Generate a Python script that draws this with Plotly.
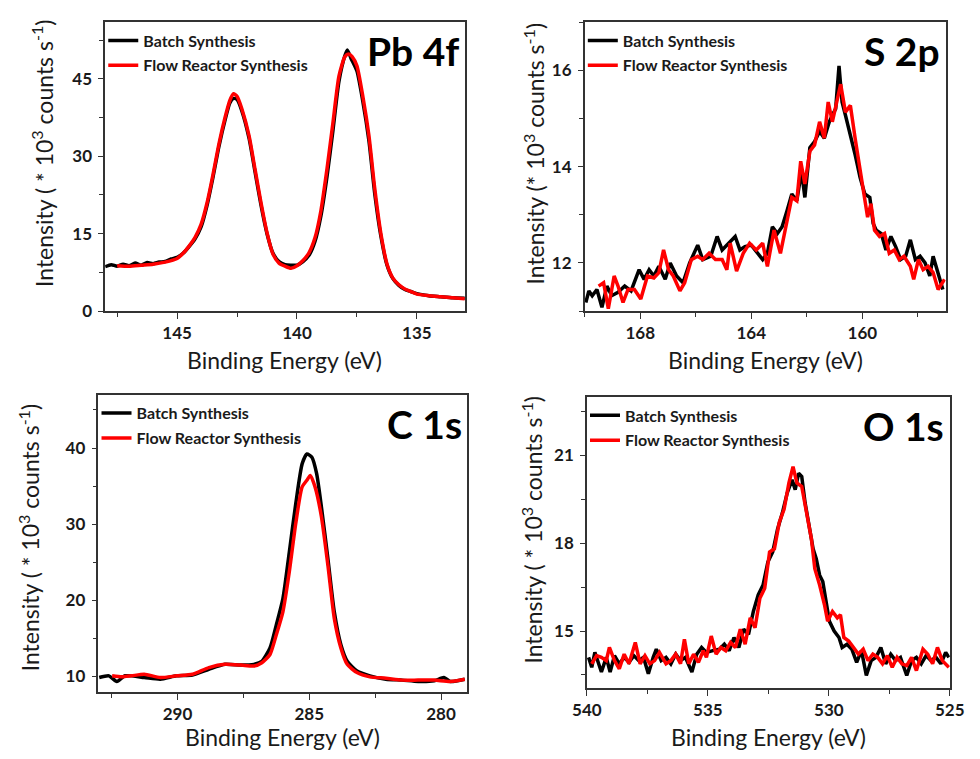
import plotly.graph_objects as go

# ---------------- Pb 4f ----------------
pb_x_batch = [148.0, 147.75, 147.5, 147.25, 147.0, 146.75, 146.5, 146.25, 146.0, 145.75, 145.5, 145.25,
              145.0, 144.75, 144.5, 144.25, 144.0, 143.75, 143.5, 143.25, 143.0, 142.8, 142.65, 142.5,
              142.3, 142.0, 141.75, 141.5, 141.25, 141.0, 140.75, 140.5, 140.25, 140.0, 139.75, 139.5,
              139.25, 139.0, 138.75, 138.5, 138.25, 138.0, 137.9, 137.75, 137.5, 137.25, 137.0, 136.75,
              136.5, 136.25, 136.0, 135.75, 135.5, 135.25, 135.0, 134.5, 134.0, 133.5, 133.0]
pb_y_batch = [8.6, 9.0, 8.7, 9.1, 8.8, 9.3, 8.9, 9.4, 9.2, 9.5, 9.6, 10.1,
              10.4, 11.2, 12.5, 14.0, 16.3, 20.5, 26.0, 32.0, 37.0, 40.3, 41.2, 41.0,
              38.8, 33.5, 27.0, 20.5, 15.0, 11.2, 9.6, 9.0, 8.9, 8.9, 9.6, 10.8,
              13.5, 18.5, 26.0, 35.0, 44.5, 49.5, 50.6, 49.0, 46.5, 40.5, 33.0, 22.5,
              14.5, 9.0, 6.3, 5.0, 4.2, 3.8, 3.4, 3.0, 2.8, 2.6, 2.5]
pb_x_flow = [147.5, 147.0, 146.5, 146.0, 145.5, 145.0, 144.75, 144.5, 144.25, 144.0, 143.75, 143.5,
             143.25, 143.0, 142.8, 142.65, 142.5, 142.3, 142.0, 141.75, 141.5, 141.25, 141.0, 140.75,
             140.5, 140.25, 140.0, 139.75, 139.5, 139.25, 139.0, 138.75, 138.5, 138.25, 138.0, 137.85,
             137.7, 137.5, 137.25, 137.0, 136.75, 136.5, 136.25, 136.0, 135.75, 135.5, 135.25, 135.0,
             134.5, 134.0, 133.5, 133.0]
pb_y_flow = [8.8, 8.7, 8.9, 9.1, 9.5, 10.2, 11.2, 12.6, 14.3, 16.8, 21.0, 26.5,
             32.5, 37.5, 40.8, 42.1, 41.6, 39.2, 34.0, 27.5, 21.0, 15.2, 11.0, 9.3,
             8.7, 8.3, 8.8, 9.8, 11.3, 14.2, 19.5, 27.5, 36.5, 45.5, 49.3, 49.8,
             49.3, 47.5, 41.5, 34.0, 23.5, 15.0, 9.2, 6.4, 5.1, 4.3, 3.8, 3.3,
             3.0, 2.8, 2.6, 2.4]

# ---------------- S 2p ----------------
s_x_batch = [169.96, 169.85, 169.73, 169.56, 169.38, 169.20, 169.03, 168.80, 168.56, 168.33, 168.04, 167.86,
             167.68, 167.51, 167.33, 167.10, 166.92, 166.69, 166.46, 166.22, 165.93, 165.75, 165.46, 165.23,
             165.05, 164.82, 164.58, 164.41, 164.23, 164.00, 163.77, 163.59, 163.42, 163.24, 163.06, 162.89,
             162.71, 162.54, 162.36, 162.19, 162.07, 161.89, 161.72, 161.54, 161.37, 161.19, 161.08, 160.96,
             160.84, 160.73, 160.61, 160.43, 160.26, 160.08, 159.91, 159.73, 159.61, 159.50, 159.32, 159.15,
             158.97, 158.80, 158.62, 158.44, 158.27, 158.09, 157.92, 157.74, 157.57, 157.45, 157.27, 157.10]
s_y_batch = [11.18, 11.42, 11.32, 11.45, 11.08, 11.52, 11.32, 11.39, 11.52, 11.42, 11.86, 11.66,
             11.86, 11.73, 11.93, 11.66, 12.00, 11.73, 11.59, 12.00, 12.37, 12.07, 12.14, 12.55,
             12.27, 12.41, 12.55, 12.27, 12.34, 12.37, 12.20, 12.07, 12.20, 12.75, 12.61, 12.75,
             13.09, 13.43, 13.29, 13.91, 13.36, 14.39, 14.52, 14.73, 14.59, 14.93, 15.07, 15.20,
             16.09, 15.34, 15.07, 14.66, 14.25, 13.77, 13.43, 13.36, 12.82, 12.68, 12.61, 12.27,
             12.55, 12.34, 12.07, 12.14, 12.48, 12.07, 12.14, 12.00, 11.73, 12.14, 11.80, 11.45]
s_x_flow = [169.50, 169.32, 169.15, 168.94, 168.80, 168.62, 168.44, 168.21, 167.98, 167.74, 167.51, 167.33,
            167.16, 166.98, 166.81, 166.57, 166.40, 166.16, 165.93, 165.75, 165.52, 165.29, 165.05, 164.88,
            164.76, 164.53, 164.29, 164.06, 163.82, 163.59, 163.42, 163.18, 162.95, 162.77, 162.54, 162.36,
            162.22, 162.07, 161.89, 161.72, 161.54, 161.37, 161.23, 161.08, 160.94, 160.78, 160.61, 160.43,
            160.26, 160.08, 159.93, 159.81, 159.69, 159.56, 159.38, 159.20, 159.03, 158.85, 158.67, 158.50,
            158.27, 158.15, 157.98, 157.81, 157.63, 157.45, 157.27, 157.04]
s_y_flow = [11.52, 11.59, 11.05, 11.73, 11.52, 11.18, 11.45, 11.45, 11.25, 11.73, 11.69, 11.80,
            12.27, 11.86, 11.73, 11.42, 11.59, 12.07, 12.14, 12.07, 12.20, 12.07, 12.07, 11.86,
            12.41, 11.83, 12.20, 12.41, 12.27, 12.41, 11.93, 12.68, 12.20, 12.75, 13.36, 13.29,
            14.11, 13.64, 14.32, 14.45, 14.93, 14.59, 15.34, 14.93, 15.27, 15.71, 15.13, 15.27,
            14.59, 13.91, 13.43, 12.95, 13.23, 12.68, 12.55, 12.61, 12.20, 12.27, 12.07, 12.14,
            11.93, 11.66, 12.07, 11.86, 11.93, 11.80, 11.45, 11.66]

# ---------------- C 1s ----------------
c_x_batch = [292.97, 292.60, 292.30, 291.99, 291.26, 290.65, 290.04, 289.43, 288.81, 288.20, 287.59, 287.10,
             286.80, 286.49, 286.25, 286.00, 285.76, 285.51, 285.27, 285.09, 284.90, 284.72, 284.54, 284.29,
             284.05, 283.80, 283.56, 283.19, 282.70, 282.09, 281.48, 280.87, 280.26, 279.89, 279.65, 279.10]
c_y_batch = [9.87, 10.09, 9.35, 10.10, 9.87, 9.65, 10.09, 10.20, 10.95, 11.60, 11.50, 11.60,
             12.00, 13.75, 16.78, 20.23, 26.27, 32.75, 37.92, 39.22, 38.79, 36.63, 32.31, 25.41,
             18.50, 14.19, 12.03, 10.73, 10.09, 9.65, 9.53, 9.35, 9.44, 9.87, 9.35, 9.65]
c_x_flow = [292.48, 292.11, 291.75, 291.26, 290.65, 290.04, 289.43, 288.81, 288.20, 287.59, 287.10, 286.80,
            286.49, 286.25, 286.00, 285.76, 285.51, 285.27, 285.09, 284.96, 284.78, 284.54, 284.29, 284.05,
            283.80, 283.56, 283.19, 282.70, 282.09, 281.48, 280.87, 280.26, 279.65, 279.10]
c_y_flow = [10.09, 9.96, 10.09, 10.30, 9.87, 10.09, 10.30, 11.17, 11.60, 11.50, 11.38, 11.81,
            12.89, 15.48, 18.50, 23.68, 30.16, 34.90, 35.77, 36.41, 34.90, 31.02, 24.54, 17.64,
            13.75, 11.60, 10.52, 9.96, 9.78, 9.53, 9.53, 9.53, 9.35, 9.65]

# ---------------- O 1s ----------------
o_x_batch = [539.93, 539.80, 539.67, 539.53, 539.40, 539.20, 539.04, 538.86, 538.66, 538.46, 538.26, 538.06,
             537.86, 537.66, 537.46, 537.26, 537.13, 536.93, 536.73, 536.53, 536.33, 536.13, 535.93, 535.66,
             535.46, 535.26, 535.06, 534.79, 534.52, 534.32, 534.12, 533.92, 533.72, 533.52, 533.32, 533.12,
             532.92, 532.72, 532.52, 532.32, 532.12, 531.92, 531.72, 531.52, 531.39, 531.25, 531.12, 530.98,
             530.85, 530.65, 530.52, 530.38, 530.25, 530.12, 529.98, 529.78, 529.58, 529.45, 529.25, 529.05,
             528.85, 528.65, 528.45, 528.25, 528.05, 527.85, 527.65, 527.44, 527.24, 527.04, 526.78, 526.58,
             526.38, 526.18, 525.98, 525.78, 525.57, 525.37, 525.17, 525.04]
o_y_batch = [14.10, 13.76, 14.27, 13.88, 13.60, 14.10, 13.60, 14.16, 13.88, 14.10, 13.93, 14.16,
             13.99, 14.10, 13.54, 14.10, 14.38, 13.99, 14.10, 13.88, 14.21, 13.99, 14.10, 13.60,
             14.21, 14.44, 14.27, 14.33, 14.38, 14.55, 14.33, 14.78, 14.44, 15.06, 14.89, 15.67,
             16.24, 16.57, 17.36, 17.70, 18.48, 19.04, 19.72, 20.17, 19.83, 20.39, 20.28, 19.38,
             18.82, 17.81, 17.47, 16.91, 16.69, 16.01, 15.34, 15.00, 14.78, 14.44, 14.55, 14.38,
             13.93, 14.33, 13.48, 13.99, 14.10, 14.44, 13.88, 14.21, 13.99, 14.10, 13.48, 13.99,
             14.10, 13.88, 14.16, 13.99, 14.10, 13.88, 14.27, 14.10]
o_x_flow = [539.80, 539.60, 539.40, 539.20, 539.07, 538.86, 538.66, 538.46, 538.26, 538.00, 537.80, 537.60,
            537.40, 537.20, 537.00, 536.73, 536.53, 536.33, 536.13, 535.97, 535.79, 535.59, 535.39, 535.19,
            535.06, 534.86, 534.66, 534.46, 534.26, 534.06, 533.86, 533.66, 533.46, 533.25, 533.05, 532.85,
            532.65, 532.45, 532.25, 532.05, 531.85, 531.65, 531.48, 531.32, 531.12, 530.92, 530.72, 530.58,
            530.38, 530.18, 530.05, 529.85, 529.65, 529.52, 529.38, 529.18, 528.98, 528.78, 528.58, 528.38,
            528.18, 527.98, 527.78, 527.58, 527.38, 527.18, 526.98, 526.78, 526.58, 526.38, 526.11, 525.91,
            525.71, 525.51, 525.31, 525.04]
o_y_flow = [13.88, 14.16, 14.10, 13.99, 14.44, 13.99, 13.71, 14.21, 13.88, 14.61, 13.88, 14.16,
            13.88, 13.99, 14.27, 13.88, 13.99, 14.21, 13.88, 14.72, 13.88, 14.21, 13.93, 14.33,
            14.10, 14.83, 14.21, 14.44, 14.33, 14.61, 14.44, 15.06, 14.55, 15.45, 15.11, 16.12,
            16.46, 17.70, 17.81, 18.71, 19.16, 20.06, 20.62, 20.06, 19.94, 19.04, 18.15, 17.13,
            16.57, 15.90, 15.34, 15.67, 15.45, 15.56, 14.78, 14.66, 14.44, 14.21, 14.38, 13.99,
            14.21, 14.10, 13.88, 14.16, 13.76, 14.10, 13.88, 13.82, 14.10, 13.65, 14.38, 14.21,
            13.88, 14.44, 13.99, 13.76]

series_names = ["Batch Synthesis", "Flow Reactor Synthesis"]
panel_labels = ["Pb 4f", "S 2p", "C 1s", "O 1s"]

FONT = "Lato"
TXT = "#1a1a1a"

panels = [
    dict(xb=pb_x_batch, yb=pb_y_batch, xf=pb_x_flow, yf=pb_y_flow, smooth=True,
         xr=[148, 133], yr=[0, 56], xd=5, yd=15,
         dom_x=[0.0949, 0.4735], dom_y=[0.5846, 0.9706], xt_off=50),
    dict(xb=s_x_batch, yb=s_y_batch, xf=s_x_flow, yf=s_y_flow, smooth=False,
         xr=[170, 157], yr=[11, 17], xd=4, yd=2,
         dom_x=[0.5997, 0.9796], dom_y=[0.5846, 0.9706], xt_off=50),
    dict(xb=c_x_batch, yb=c_y_batch, xf=c_x_flow, yf=c_y_flow, smooth=True,
         xr=[293, 279], yr=[8, 47], xd=5, yd=10,
         dom_x=[0.0878, 0.4762], dom_y=[0.0764, 0.4730], xt_off=46),
    dict(xb=o_x_batch, yb=o_y_batch, xf=o_x_flow, yf=o_y_flow, smooth=False,
         xr=[540, 525], yr=[13.05, 23], xd=5, yd=3,
         dom_x=[0.6020, 0.9840], dom_y=[0.0813, 0.4700], xt_off=50),
]

fig = go.Figure()
layout = dict(
    width=980, height=759, margin=dict(l=0, r=0, t=0, b=0),
    paper_bgcolor="white", plot_bgcolor="white", showlegend=True,
    font=dict(family=FONT, color=TXT),
)

annotations = []
for i, p in enumerate(panels):
    k = "" if i == 0 else str(i + 1)
    xa, ya = "x" + k, "y" + k
    lg = "legend" + k
    shape = "spline" if p["smooth"] else "linear"
    fig.add_trace(go.Scatter(x=p["xb"], y=p["yb"], mode="lines", name=series_names[0],
                             line=dict(color="black", width=3.5, shape=shape, smoothing=0.6),
                             xaxis=xa, yaxis=ya, legend=lg, legendgroup=f"b{i}"))
    fig.add_trace(go.Scatter(x=p["xf"], y=p["yf"], mode="lines", name=series_names[1],
                             line=dict(color="#ff0000", width=3.5, shape=shape, smoothing=0.6),
                             xaxis=xa, yaxis=ya, legend=lg, legendgroup=f"f{i}"))
    common = dict(showline=True, linecolor="#333", linewidth=1.5, mirror=True,
                  ticks="outside", ticklen=6, tickwidth=1.3, tickcolor="#333",
                  showgrid=False, zeroline=False,
                  tickfont=dict(family=FONT, size=17, weight="bold", color=TXT))
    layout["xaxis" + k] = dict(common, domain=p["dom_x"], range=p["xr"], dtick=p["xd"], tick0=0,
                               anchor=ya,
                               minor=dict(ticks="outside", ticklen=4, dtick=p["xd"] / 2, tickcolor="#333"))
    layout["yaxis" + k] = dict(common, domain=p["dom_y"], range=p["yr"], dtick=p["yd"], tick0=0,
                               anchor=xa, ticklen=5, ticklabelstandoff=3,
                               minor=dict(ticks="outside", ticklen=4, dtick=p["yd"] / 2, tickcolor="#333"))
    layout[lg] = dict(x=p["dom_x"][0] - 0.002, y=p["dom_y"][1] - 0.002, xanchor="left", yanchor="top",
                      bgcolor="rgba(0,0,0,0)", traceorder="grouped", tracegroupgap=1,
                      font=dict(family=FONT, size=16, weight="bold", color=TXT))
    # panel label
    annotations.append(dict(text=f"<b>{panel_labels[i]}</b>", xref=xa + " domain", yref=ya + " domain",
                            x=0.99, y=0.985, xanchor="right", yanchor="top", showarrow=False,
                            font=dict(family=FONT, size=39, color="black")))
    # x title
    cx = (p["dom_x"][0] + p["dom_x"][1]) / 2
    annotations.append(dict(text="Binding Energy (eV)", xref="paper", yref="paper",
                            x=cx, y=p["dom_y"][0] - p["xt_off"] / 759, xanchor="center", yanchor="middle",
                            showarrow=False, font=dict(family=FONT, size=23, color=TXT)))

ytitle = ["Intensity ( * 10<sup>3</sup> counts s<sup>-1</sup>)",
          "Intensity (* 10<sup>3</sup> counts s<sup>-1</sup>)",
          "Intensity ( * 10<sup>3</sup> counts s<sup>-1</sup>)",
          "Intensity ( * 10<sup>3</sup> counts s<sup>-1</sup>)"]
ytx = [29 / 980, 536 / 980, 15 / 980, 534 / 980]
yty = [1 - 156 / 759, 1 - 156 / 759, 1 - 545 / 759, 1 - 537 / 759]
for i in range(4):
    annotations.append(dict(text=ytitle[i], xref="paper", yref="paper", x=ytx[i], y=yty[i],
                            xanchor="center", yanchor="middle", textangle=-90, showarrow=False,
                            font=dict(family=FONT, size=23, color=TXT)))

layout["annotations"] = annotations
fig.update_layout(**layout)
fig.write_html("out.html")
